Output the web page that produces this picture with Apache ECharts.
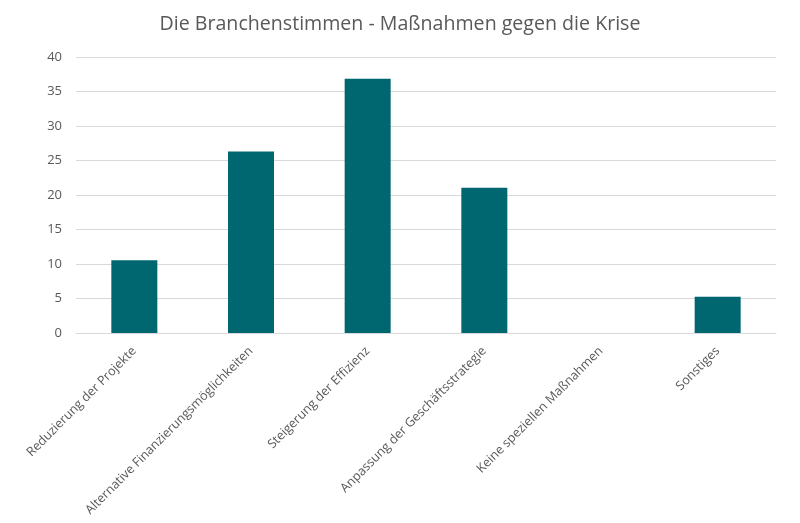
<!DOCTYPE html>
<html>
<head>
<meta charset="utf-8">
<script src="https://cdn.jsdelivr.net/npm/echarts@6/dist/echarts.min.js"></script>
<style>html,body{margin:0;padding:0;background:#fff}#c{width:800px;height:523px}</style>
</head>
<body>
<div id="c"></div>
<script>
const titleText = 'Die Branchenstimmen - Maßnahmen gegen die Krise';
const categories = ['Reduzierung der Projekte', 'Alternative Finanzierungsmöglichkeiten', 'Steigerung der Effizienz', 'Anpassung der Geschäftsstrategie', 'Keine speziellen Maßnahmen', 'Sonstiges'];
const values = [10.53, 26.32, 36.84, 21.05, 0, 5.26];
const yTicks = [0, 5, 10, 15, 20, 25, 30, 35, 40];

const chart = echarts.init(document.getElementById('c'), null, {renderer: 'canvas'});
chart.setOption({
  animation: false,
  backgroundColor: '#fff',
  title: {
    text: titleText, left: 'center', top: 9,
    textStyle: {fontFamily: 'Open Sans', fontSize: 19.6, fontWeight: 'normal', color: '#595959'}
  },
  grid: {left: 76, right: 24, top: 57, bottom: 190, containLabel: false},
  xAxis: {
    type: 'category', data: categories,
    axisLine: {lineStyle: {color: '#d9d9d9'}},
    axisTick: {show: false},
    axisLabel: {rotate: 45, interval: 0, color: '#595959', fontFamily: 'Open Sans', fontSize: 12.6, margin: 16}
  },
  yAxis: {
    type: 'value', min: yTicks[0], max: yTicks[yTicks.length - 1], interval: 5,
    axisLine: {show: false}, axisTick: {show: false},
    splitLine: {lineStyle: {color: '#d9d9d9'}},
    axisLabel: {color: '#595959', fontFamily: 'Open Sans', fontSize: 13, margin: 14}
  },
  series: [{
    type: 'bar', data: values, barWidth: 46,
    itemStyle: {color: '#006670'}
  }]
});
</script>
</body>
</html>
